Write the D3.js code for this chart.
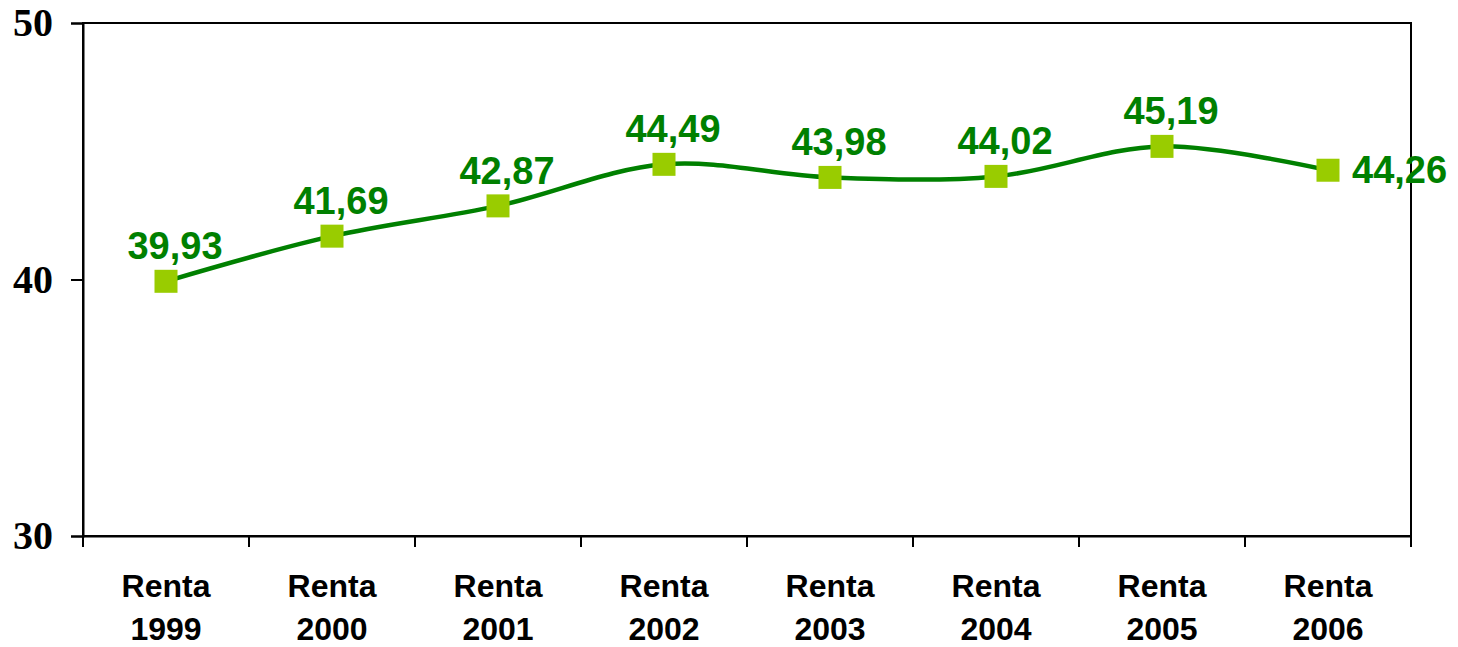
<!DOCTYPE html>
<html>
<head>
<meta charset="utf-8">
<script src="https://cdn.jsdelivr.net/npm/d3@7"></script>
<style>
  html, body { margin: 0; padding: 0; background: #fff; }
  #vis { width: 1458px; height: 647px; }
</style>
</head>
<body>
<div id="vis"></div>
<script>
// datos
const categorias = ["Renta 1999", "Renta 2000", "Renta 2001", "Renta 2002", "Renta 2003", "Renta 2004", "Renta 2005", "Renta 2006"];
const valores = [39.93, 41.69, 42.87, 44.49, 43.98, 44.02, 45.19, 44.26];
const ticksY = [30, 40, 50];

const width = 1458, height = 647;
const margins = { top: 23, right: 47, bottom: 111, left: 83 };

const svg = d3.select("#vis").append("svg")
    .attr("width", width)
    .attr("height", height);

// Escalas
const xScale = d3.scaleBand()
    .domain(categorias)
    .range([margins.left, width - margins.right]);

const yScale = d3.scaleLinear()
    .domain([30, 50])
    .range([height - margins.bottom, margins.top]);

const cx = d => xScale(d) + xScale.bandwidth() / 2;

// Marco
svg.append("rect")
    .attr("x", margins.left)
    .attr("y", margins.top)
    .attr("width", width - margins.left - margins.right)
    .attr("height", height - margins.top - margins.bottom)
    .attr("fill", "none")
    .attr("stroke", "#000")
    .attr("stroke-width", 2);

// Eixo Y
const ejeY = svg.append("g")
    .attr("transform", `translate(${margins.left}, 0)`)
    .call(d3.axisLeft(yScale).tickValues(ticksY).tickSize(12).tickPadding(18));
ejeY.select(".domain").attr("stroke-width", 2);
ejeY.selectAll(".tick line").attr("stroke-width", 2);
ejeY.selectAll(".tick text")
    .attr("font-family", "'Liberation Serif', 'Times New Roman', serif")
    .attr("font-weight", "bold")
    .attr("font-size", 40)
    .attr("fill", "#000");

// Eixo X
const ejeX = svg.append("g")
    .attr("transform", `translate(0, ${height - margins.bottom})`)
    .call(d3.axisBottom(xScale).tickSize(0).tickFormat(() => ""));
ejeX.select(".domain").attr("stroke-width", 2);

// separadores de categoría
const bordes = categorias.map(c => xScale(c)).concat([xScale(categorias[categorias.length - 1]) + xScale.bandwidth()]);
svg.append("g").selectAll("line")
    .data(bordes)
    .join("line")
    .attr("x1", d => d).attr("x2", d => d)
    .attr("y1", height - margins.bottom)
    .attr("y2", height - margins.bottom + 11)
    .attr("stroke", "#000")
    .attr("stroke-width", 2);

// etiquetas de categoría
const etiquetas = svg.append("g").selectAll("text")
    .data(categorias)
    .join("text")
    .attr("x", d => cx(d))
    .attr("text-anchor", "middle")
    .attr("font-family", "'Liberation Sans', Arial, sans-serif")
    .attr("font-weight", "bold")
    .attr("font-size", 32)
    .attr("fill", "#000");
etiquetas.each(function(d) {
    const partes = d.split(" ");
    d3.select(this).selectAll("tspan")
        .data(partes)
        .join("tspan")
        .attr("x", cx(d))
        .attr("y", (p, i) => 597 + i * 43)
        .text(p => p);
});

// Linha suavizada
const linea = d3.line()
    .x((d, i) => cx(categorias[i]))
    .y(d => yScale(d))
    .curve(d3.curveCatmullRom.alpha(0.5));

svg.append("path")
    .datum(valores)
    .attr("d", linea)
    .attr("fill", "none")
    .attr("stroke", "#008000")
    .attr("stroke-width", 4.5);

// Marcadores
const lado = 23;
svg.append("g").selectAll("rect")
    .data(valores)
    .join("rect")
    .attr("x", (d, i) => cx(categorias[i]) - lado / 2)
    .attr("y", d => yScale(d) - lado / 2)
    .attr("width", lado)
    .attr("height", lado)
    .attr("fill", "#99CC00");

// Rótulos de valor
const ultimo = valores.length - 1;
svg.append("g").selectAll("text")
    .data(valores)
    .join("text")
    .attr("x", (d, i) => i === ultimo ? cx(categorias[i]) + 24 : cx(categorias[i]) + 9)
    .attr("y", (d, i) => i === ultimo ? yScale(d) + 13 : yScale(d) - 22)
    .attr("text-anchor", (d, i) => i === ultimo ? "start" : "middle")
    .attr("font-family", "'Liberation Sans', Arial, sans-serif")
    .attr("font-weight", "bold")
    .attr("font-size", 38)
    .attr("fill", "#008000")
    .text(d => d.toFixed(2).replace(".", ","));
</script>
</body>
</html>
